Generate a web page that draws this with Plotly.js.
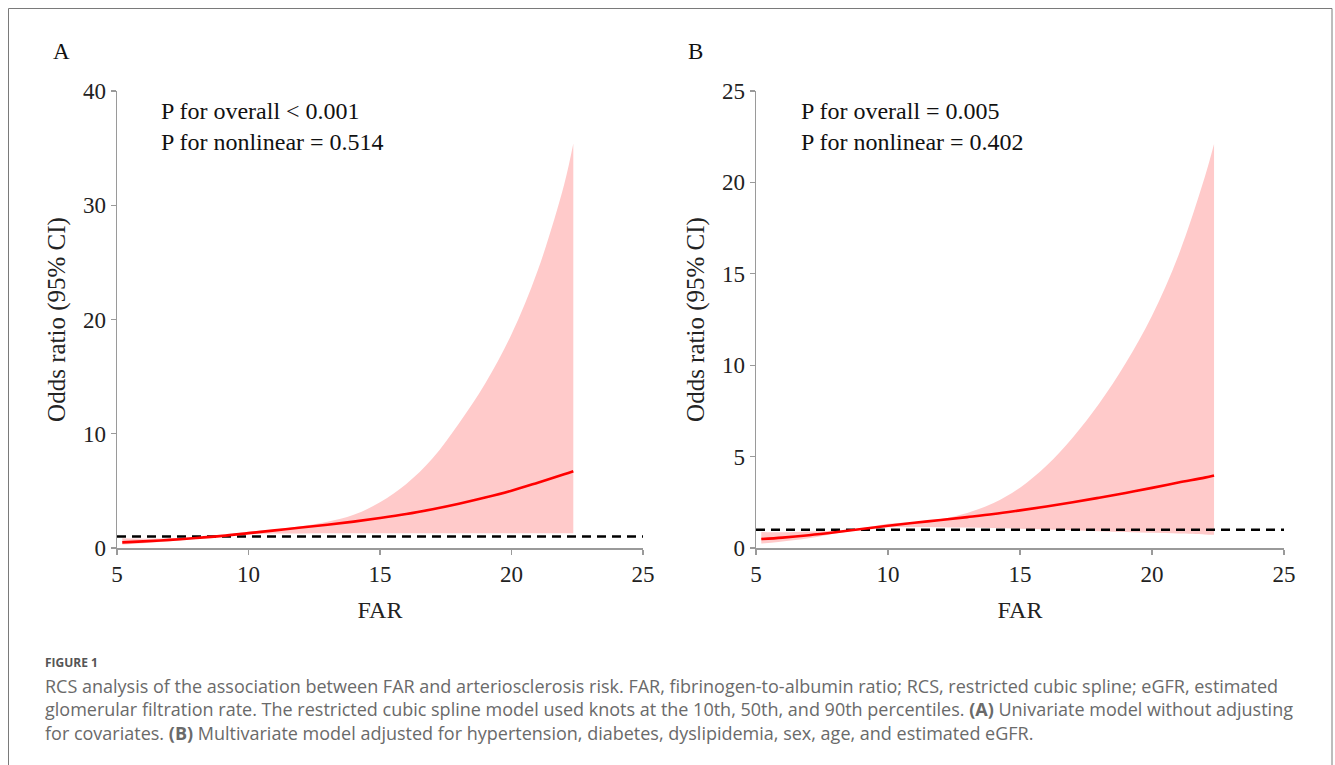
<!DOCTYPE html>
<html>
<head>
<meta charset="utf-8">
<script src="https://cdn.plot.ly/plotly-3.0.1.min.js"></script>
<style>html,body{margin:0;padding:0;background:#fff;}#chart{width:1335px;height:765px;}</style>
</head>
<body>
<div id="chart"></div>
<script>
// FAR values at which the curves were read
const far = [5.2, 6, 7, 8, 9, 10, 11, 12, 13, 14, 15, 16, 17, 18, 19, 20, 21, 22, 22.35];

// Panel A: univariate model
const orA  = [0.49, 0.58, 0.71, 0.87, 1.06, 1.30, 1.54, 1.79, 2.04, 2.31, 2.62, 2.97, 3.40, 3.88, 4.42, 5.02, 5.72, 6.45, 6.72];
const lowA = [0.30, 0.42, 0.58, 0.81, 1.03, 1.20, 1.26, 1.28, 1.29, 1.29, 1.29, 1.29, 1.29, 1.29, 1.29, 1.29, 1.29, 1.29, 1.29];
const upA  = [0.85, 0.82, 0.86, 0.93, 1.10, 1.42, 1.62, 1.90, 2.30, 2.90, 4.00, 5.60, 7.85, 10.9, 14.4, 18.7, 24.3, 31.8, 35.4];

// Panel B: multivariate model
const orB  = [0.49, 0.57, 0.70, 0.86, 1.04, 1.22, 1.38, 1.53, 1.69, 1.86, 2.06, 2.27, 2.50, 2.75, 3.01, 3.29, 3.58, 3.85, 3.97];
const lowB = [0.24, 0.36, 0.53, 0.79, 1.00, 1.13, 1.15, 1.14, 1.12, 1.09, 1.05, 1.01, 0.97, 0.92, 0.87, 0.83, 0.79, 0.74, 0.72];
const upB  = [0.88, 0.86, 0.90, 0.94, 1.08, 1.32, 1.42, 1.58, 1.92, 2.46, 3.30, 4.50, 6.05, 7.90, 10.1, 12.7, 16.0, 20.3, 22.1];

// Reference line OR = 1
const refX = [5, 25];
const refY = [1, 1];

// Tick labels
const xTicks = [5, 10, 15, 20, 25];
const yTicksA = [0, 10, 20, 30, 40];
const yTicksB = [0, 5, 10, 15, 20, 25];

const pA = ["P for overall < 0.001", "P for nonlinear = 0.514"];
const pB = ["P for overall = 0.005", "P for nonlinear = 0.402"];

const caption = [
  "RCS analysis of the association between FAR and arteriosclerosis risk. FAR, fibrinogen-to-albumin ratio; RCS, restricted cubic spline; eGFR, estimated",
  "glomerular filtration rate. The restricted cubic spline model used knots at the 10th, 50th, and 90th percentiles. <b>(A)</b> Univariate model without adjusting",
  "for covariates. <b>(B)</b> Multivariate model adjusted for hypertension, diabetes, dyslipidemia, sex, age, and estimated eGFR."
];

const W = 1335, H = 765;
const px = v => v / W;
const py = v => 1 - v / H;

const SERIF = "Liberation Serif, Times New Roman, serif";
const SANS = "Open Sans, Noto Sans, sans-serif";
const fill = "#ffcaca";

function panel(xa, ya, lo, up, mid) {
  return [
    {x: far, y: lo, xaxis: xa, yaxis: ya, mode: "lines", line: {width: 0, shape: "spline"}, hoverinfo: "skip", showlegend: false},
    {x: far, y: up, xaxis: xa, yaxis: ya, mode: "lines", line: {width: 0, shape: "spline"}, fill: "tonexty", fillcolor: fill, showlegend: false},
    {x: refX, y: refY, xaxis: xa, yaxis: ya, mode: "lines", line: {color: "#000", width: 2.5, dash: "9px,6px"}, showlegend: false},
    {x: far, y: mid, xaxis: xa, yaxis: ya, mode: "lines", line: {color: "#ff0000", width: 2.6, shape: "spline"}, showlegend: false}
  ];
}

const data = [].concat(panel("x", "y", lowA, upA, orA), panel("x2", "y2", lowB, upB, orB));

function xax(domain, anchor) {
  return {
    domain: domain, anchor: anchor, range: [5, 25], tickvals: xTicks,
    showline: true, linecolor: "#9a9a9a", linewidth: 1.5, ticks: "outside", ticklen: 5, tickcolor: "#9a9a9a", tickwidth: 1.2,
    showgrid: false, zeroline: false,
    tickfont: {family: SERIF, size: 23, color: "#222"},
    title: {text: "FAR", font: {family: SERIF, size: 24, color: "#222"}, standoff: 15}
  };
}
function yax(domain, anchor, range, ticks) {
  return {
    domain: domain, anchor: anchor, range: range, tickvals: ticks,
    showline: true, linecolor: "#9a9a9a", linewidth: 1.5, ticks: "outside", ticklen: 5, tickcolor: "#9a9a9a", tickwidth: 1.2,
    showgrid: false, zeroline: false,
    tickfont: {family: SERIF, size: 23, color: "#222"},
    title: {text: "Odds ratio (95% CI)", font: {family: SERIF, size: 25, color: "#222"}, standoff: 10}
  };
}

const yDom = [py(548), py(91)];

const annotations = [];
function txt(x, y, t, font, anchor) {
  annotations.push({xref: "paper", yref: "paper", x: px(x), y: py(y), text: t, showarrow: false,
    xanchor: anchor || "left", yanchor: "middle", font: font});
}
const pFont = {family: SERIF, size: 24, color: "#111"};
txt(51, 52, "A", {family: SERIF, size: 23, color: "#111"});
txt(686, 52, "B", {family: SERIF, size: 23, color: "#111"});
txt(159, 111, pA[0], pFont);
txt(159, 142, pA[1], pFont);
txt(799, 111, pB[0], pFont);
txt(799, 142, pB[1], pFont);

const capFont = {family: SANS, size: 18, color: "#6a6a6a"};
txt(43, 662, "<b>FIGURE 1</b>", {family: SANS, size: 12, color: "#555"});
txt(43, 686, caption[0], capFont);
txt(43, 709, caption[1], capFont);
txt(43, 733, caption[2], capFont);

const layout = {
  width: W, height: H,
  margin: {l: 0, r: 0, t: 0, b: 0},
  paper_bgcolor: "#fff", plot_bgcolor: "#fff",
  showlegend: false,
  xaxis: xax([px(117), px(643)], "y"),
  yaxis: yax(yDom, "x", [0, 40], yTicksA),
  xaxis2: xax([px(756), px(1284)], "y2"),
  yaxis2: yax(yDom, "x2", [0, 25], yTicksB),
  annotations: annotations,
  shapes: [{
    type: "path", xref: "paper", yref: "paper",
    path: "M " + px(8.5) + " 0 L " + px(8.5) + " " + py(8.5) + " L " + px(1332) + " " + py(8.5) + " L " + px(1332) + " 0",
    line: {color: "#7a7a7a", width: 1}
  }]
};

Plotly.newPlot("chart", data, layout, {displayModeBar: false, staticPlot: true});
</script>
</body>
</html>
